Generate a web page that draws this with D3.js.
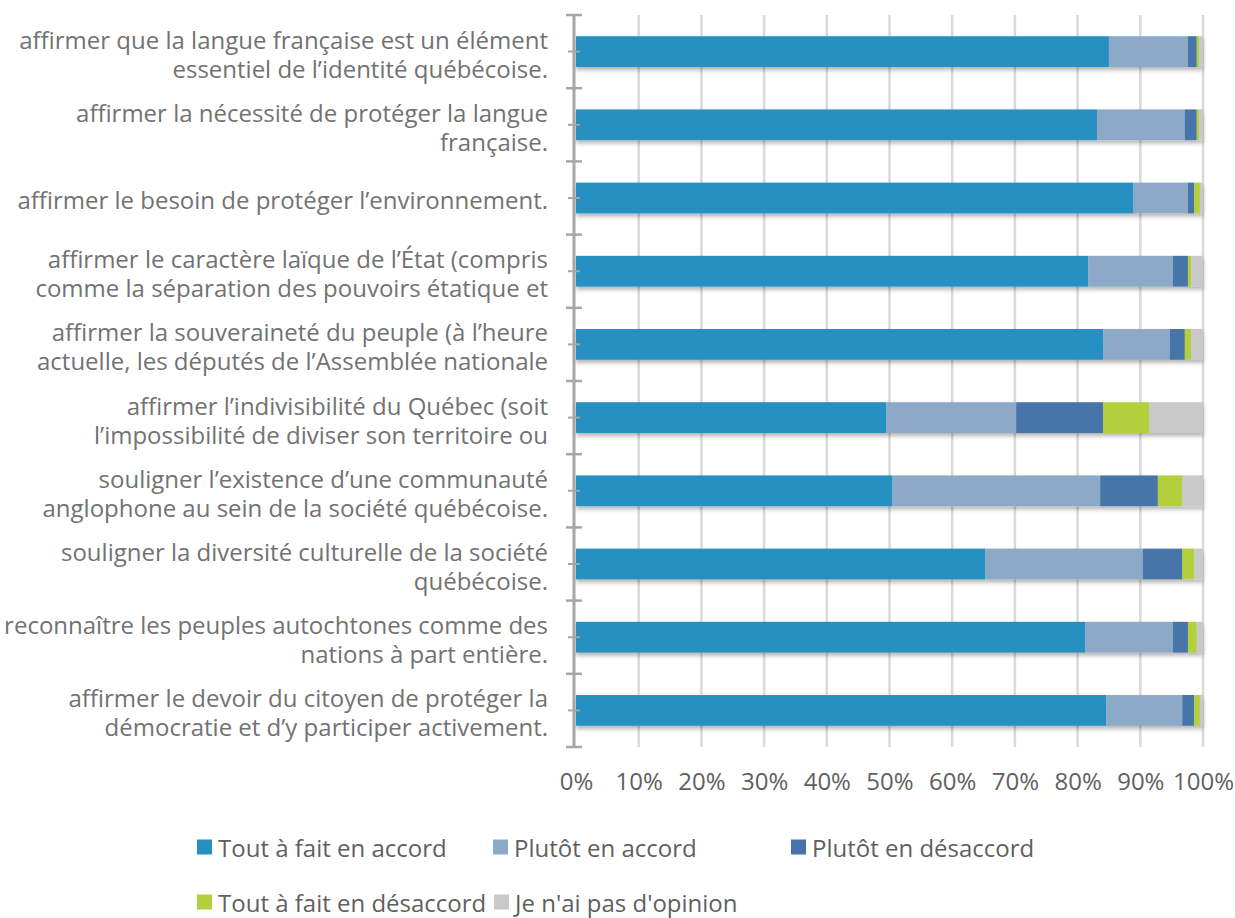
<!DOCTYPE html>
<html>
<head>
<meta charset="utf-8">
<script src="https://cdn.jsdelivr.net/npm/d3@7"></script>
<style>
  body { margin: 0; background: #fff; }
  svg { display: block; font-family: "Open Sans", sans-serif; }
</style>
</head>
<body>
<svg id="chart" width="1235" height="918"></svg>
<script>
// categories (line breaks follow the original wrapping, truncated as in source)
const categories = [
  "affirmer que la langue française est un élément\nessentiel de l’identité québécoise.",
  "affirmer la nécessité de protéger la langue\nfrançaise.",
  "affirmer le besoin de protéger l’environnement.",
  "affirmer le caractère laïque de l’État (compris\ncomme la séparation des pouvoirs étatique et",
  "affirmer la souveraineté du peuple (à l’heure\nactuelle, les députés de l’Assemblée nationale",
  "affirmer l’indivisibilité du Québec (soit\nl’impossibilité de diviser son territoire ou",
  "souligner l’existence d’une communauté\nanglophone au sein de la société québécoise.",
  "souligner la diversité culturelle de la société\nquébécoise.",
  "reconnaître les peuples autochtones comme des\nnations à part entière.",
  "affirmer le devoir du citoyen de protéger la\ndémocratie et d’y participer activement."
]

const seriesNames = ["Tout à fait en accord", "Plutôt en accord", "Plutôt en désaccord",
  "Tout à fait en désaccord", "Je n'ai pas d'opinion"]
const seriesColors = ["#2790c3", "#8ca9c8", "#4674aa", "#b3cf3a", "#c9c9c9"]

const toutAFaitAccord    = [85.0, 83.1, 88.9, 81.7, 84.1, 49.5, 50.4, 65.3, 81.2, 84.6]
const plutotAccord       = [12.6, 14.0,  8.7, 13.5, 10.6, 20.7, 33.2, 25.1, 14.0, 12.1]
const plutotDesaccord    = [ 1.4,  1.9,  1.0,  2.4,  2.4, 13.9,  9.2,  6.3,  2.4,  1.9]
const toutAFaitDesaccord = [ 0.4,  0.4,  0.9,  0.5,  1.0,  7.3,  3.9,  1.9,  1.4,  0.9]
const sansOpinion        = [ 0.6,  0.6,  0.5,  1.9,  1.9,  8.6,  3.3,  1.4,  1.0,  0.5]

const xTicks = [0, 10, 20, 30, 40, 50, 60, 70, 80, 90, 100]

const rows = categories.map((c, i) => ({
  cat: c,
  s0: toutAFaitAccord[i], s1: plutotAccord[i], s2: plutotDesaccord[i],
  s3: toutAFaitDesaccord[i], s4: sansOpinion[i]
}))

const svg = d3.select("#chart")
const labelColor = "#727272"
const textColor = "#5f5f5f"

const x = d3.scaleLinear().domain([0, 100]).range([576, 1203])
const y = d3.scaleBand().domain(categories).range([15, 747]).paddingInner(0.58).paddingOuter(0.29)
const yOuter = d3.scaleBand().domain(categories).range([15, 747])

// drop shadow like the office chart
const defs = svg.append("defs")
const f = defs.append("filter").attr("id", "shadow")
  .attr("x", "-5%").attr("y", "-30%").attr("width", "110%").attr("height", "180%")
f.append("feDropShadow").attr("dx", 0).attr("dy", 3).attr("stdDeviation", 2)
  .attr("flood-color", "#000").attr("flood-opacity", 0.3)

// gridlines
svg.append("g").selectAll("line")
  .data(xTicks.slice(1))
  .join("line")
    .attr("x1", d => x(d)).attr("x2", d => x(d))
    .attr("y1", 15).attr("y2", 747)
    .attr("stroke", "#d9d9d9")
    .attr("stroke-width", 2.5)

// stacked bars
const stack = d3.stack().keys(["s0", "s1", "s2", "s3", "s4"])
const layers = stack(rows)

const barGroup = svg.append("g").attr("filter", "url(#shadow)")
barGroup.selectAll("g")
  .data(layers)
  .join("g")
    .attr("fill", (d, i) => seriesColors[i])
  .selectAll("rect")
  .data(d => d)
  .join("rect")
    .attr("x", d => x(d[0]))
    .attr("y", d => y(d.data.cat))
    .attr("width", d => Math.max(0, x(d[1]) - x(d[0])))
    .attr("height", y.bandwidth())

// left axis: vertical line, major ticks at band edges, minor at centres
const axisG = svg.append("g").attr("stroke", "#a6a6a6")
axisG.append("line")
  .attr("x1", 574).attr("x2", 574).attr("y1", 14).attr("y2", 748)
  .attr("stroke-width", 3)
const edges = categories.map(c => yOuter(c)).concat([yOuter.range()[1]])
axisG.selectAll("line.major")
  .data(edges)
  .join("line").attr("class", "major")
    .attr("x1", 566).attr("x2", 582)
    .attr("y1", d => d).attr("y2", d => d)
    .attr("stroke-width", 2.5)
axisG.selectAll("line.minor")
  .data(categories)
  .join("line").attr("class", "minor")
    .attr("x1", 568).attr("x2", 580)
    .attr("y1", d => yOuter(d) + yOuter.bandwidth() / 2)
    .attr("y2", d => yOuter(d) + yOuter.bandwidth() / 2)
    .attr("stroke-width", 2)

// category labels
const labelG = svg.append("g")
labelG.selectAll("text")
  .data(categories)
  .join("text")
    .attr("text-anchor", "end")
    .attr("fill", labelColor)
    .attr("font-size", 24)
    .each(function(d) {
      const lines = d.split("\n")
      const cy = yOuter(d) + yOuter.bandwidth() / 2 + 3
      const lh = 29
      const t = d3.select(this)
      lines.forEach((l, i) => {
        t.append("tspan")
          .attr("x", 548)
          .attr("y", cy + (i - (lines.length - 1) / 2) * lh)
          .attr("dy", "0.35em")
          .text(l)
      })
    })

// bottom axis labels
const xAxis = d3.axisBottom(x).tickValues(xTicks).tickSize(0).tickFormat(d => d + "%")
svg.append("g")
  .attr("transform", "translate(0,770)")
  .call(xAxis)
  .call(g => g.select(".domain").remove())
  .selectAll("text")
    .attr("font-size", 24)
    .attr("font-family", "Open Sans, sans-serif")
    .attr("fill", textColor)

// legend
const legendPos = [[197, 847], [493, 847], [791, 847], [197, 902], [494, 902]]
const legend = svg.append("g")
  .selectAll("g")
  .data(seriesNames)
  .join("g")
    .attr("transform", (d, i) => `translate(${legendPos[i][0]},${legendPos[i][1]})`)
legend.append("rect")
  .attr("x", 0).attr("y", -7.5).attr("width", 15).attr("height", 15)
  .attr("fill", (d, i) => seriesColors[i])
legend.append("text")
  .attr("x", 21).attr("y", 2).attr("dy", "0.35em")
  .attr("font-size", 24)
  .attr("fill", textColor)
  .text(d => d)
</script>
</body>
</html>
